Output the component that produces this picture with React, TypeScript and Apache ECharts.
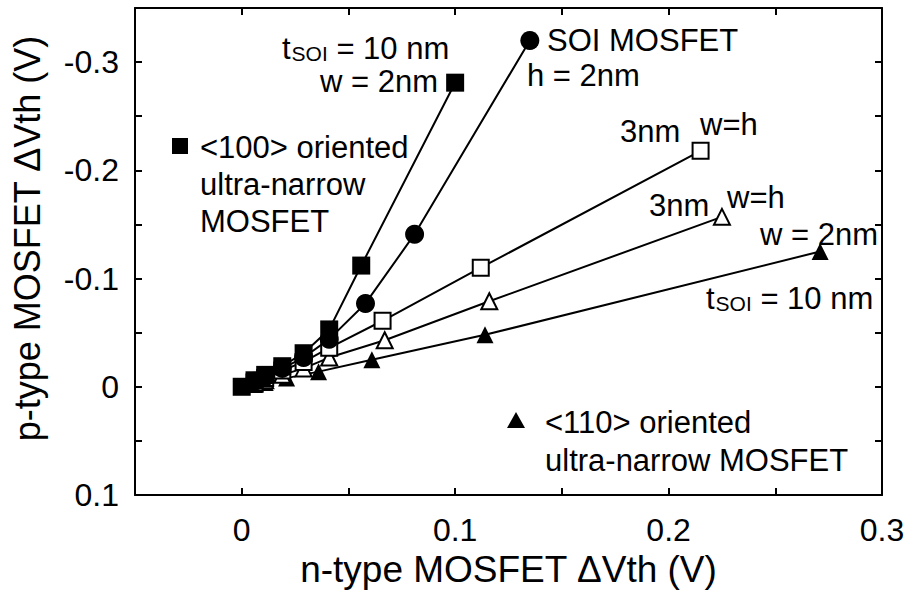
import React, { useEffect, useRef } from "react";
import * as echarts from "echarts";

const FONT = "'Liberation Sans', Arial, Helvetica, sans-serif";

// x: n-type MOSFET ΔVth (V), y: p-type MOSFET ΔVth (V)
const filledSq100: number[][] = [
  [0, 0], [0.006, -0.006], [0.011, -0.011], [0.019, -0.019], [0.029, -0.031],
  [0.041, -0.053], [0.056, -0.112], [0.1, -0.281],
];
const soiCircle: number[][] = [
  [0.006, -0.005], [0.011, -0.009], [0.019, -0.017], [0.029, -0.027],
  [0.041, -0.044], [0.058, -0.077], [0.081, -0.141], [0.135, -0.32],
];
const openSq: number[][] = [
  [0.006, -0.004], [0.011, -0.008], [0.019, -0.015], [0.029, -0.023],
  [0.041, -0.036], [0.066, -0.061], [0.112, -0.11], [0.215, -0.218],
];
const openTri: number[][] = [
  [0.006, -0.003], [0.011, -0.006], [0.019, -0.011], [0.029, -0.017],
  [0.041, -0.027], [0.067, -0.043], [0.116, -0.079], [0.225, -0.157],
];
const filledTri110: number[][] = [
  [0.006, -0.002], [0.011, -0.004], [0.021, -0.008], [0.036, -0.014],
  [0.061, -0.025], [0.114, -0.048], [0.271, -0.125],
];

const xMin = -0.05, xMax = 0.3, yMin = -0.35, yMax = 0.1, step = 0.05;

function fmt(v: number): string {
  const k = Math.round(v * 10);
  if (Math.abs(v * 10 - k) > 1e-6) return "";
  if (k === 0) return "0";
  return (k / 10).toFixed(1);
}
function fmtX(v: number): string {
  if (v < -1e-9) return "";
  return fmt(v);
}

export default function App() {
  const ref = useRef<HTMLDivElement>(null);
  useEffect(() => {
    if (!ref.current) return;
    const chart = echarts.init(ref.current, null, { renderer: "svg" });
    const lineStyle = { color: "#000", width: 2 };
    const tick = { show: true, inside: true, length: 7, lineStyle: { color: "#000", width: 2 } };
    const axisLine = { show: true, onZero: false, lineStyle: { color: "#000", width: 2 } };
    const label = { color: "#000", fontSize: 32, fontFamily: FONT };
    const ann = (text: string, x: number, y: number, size = 31) => ({
      type: "text",
      x, y,
      style: { text, font: `${size}px ${FONT}`, fill: "#000", textAlign: "left", textVerticalAlign: "middle" },
    });
    const tsoi = (x: number, y: number) => ({
      type: "text",
      x, y,
      style: {
        text: "{m|t}{s|SOI}{m| = 10 nm}",
        textAlign: "left",
        textVerticalAlign: "middle",
        rich: {
          m: { fontSize: 31, fontFamily: FONT, lineHeight: 31, verticalAlign: "bottom", fill: "#000" },
          s: { fontSize: 21, fontFamily: FONT, lineHeight: 21, padding: [17, 0, 0, 1], verticalAlign: "bottom", fill: "#000" },
        },
      },
    });
    chart.setOption({
      animation: false,
      backgroundColor: "#fff",
      grid: { left: 135, right: 27, top: 8, bottom: 106, containLabel: false },
      xAxis: [
        {
          type: "value", min: xMin, max: xMax, interval: step,
          axisLine, axisTick: tick, splitLine: { show: false },
          axisLabel: { ...label, margin: 19, formatter: fmtX },
          name: "n-type MOSFET \u0394Vth (V)", nameLocation: "middle", nameGap: 54,
          nameTextStyle: { color: "#000", fontSize: 37, fontFamily: FONT },
        },
        {
          type: "value", position: "top", min: xMin, max: xMax, interval: step,
          axisLine, axisTick: tick, splitLine: { show: false }, axisLabel: { show: false },
        },
      ],
      yAxis: [
        {
          type: "value", inverse: true, min: yMin, max: yMax, interval: step,
          axisLine, axisTick: tick, splitLine: { show: false },
          axisLabel: { ...label, margin: 16, formatter: fmt },
          name: "p-type MOSFET \u0394Vth (V)", nameLocation: "middle", nameGap: 90,
          nameTextStyle: { color: "#000", fontSize: 36, fontFamily: FONT, padding: [0, 0, 0, 26] },
        },
        {
          type: "value", position: "right", inverse: true, min: yMin, max: yMax, interval: step,
          axisLine, axisTick: tick, splitLine: { show: false }, axisLabel: { show: false },
        },
      ],
      series: [
        {
          type: "line", data: filledTri110, symbol: "triangle", symbolSize: 17,
          lineStyle, itemStyle: { color: "#000" },
        },
        {
          type: "line", data: openTri, symbol: "triangle", symbolSize: 16,
          lineStyle, itemStyle: { color: "#fff", borderColor: "#000", borderWidth: 2 },
        },
        {
          type: "line", data: openSq, symbol: "rect", symbolSize: 16,
          lineStyle, itemStyle: { color: "#fff", borderColor: "#000", borderWidth: 2 },
        },
        {
          type: "line", data: soiCircle, symbol: "circle", symbolSize: 19,
          lineStyle, itemStyle: { color: "#000" },
        },
        {
          type: "line", data: filledSq100, symbol: "rect", symbolSize: 18,
          lineStyle, itemStyle: { color: "#000" },
        },
      ],
      graphic: [
        tsoi(282, 48),
        ann("w = 2nm", 320, 81),
        ann("SOI MOSFET", 547, 40),
        ann("h = 2nm", 527, 75),
        ann("3nm", 620, 131),
        ann("w=h", 700, 124),
        ann("3nm", 649, 205),
        ann("w=h", 727, 197),
        ann("w = 2nm", 760, 234),
        tsoi(706, 298),
        { type: "rect", shape: { x: 172, y: 138, width: 16, height: 16 }, style: { fill: "#000" } },
        ann("<100> oriented", 200, 147),
        ann("ultra-narrow", 200, 184),
        ann("MOSFET", 200, 221),
        { type: "polygon", shape: { points: [[516, 412], [525, 428], [507, 428]] }, style: { fill: "#000" } },
        ann("<110> oriented", 545, 422),
        ann("ultra-narrow MOSFET", 545, 460),
      ],
    });
    return () => chart.dispose();
  }, []);
  return (
    <div
      ref={ref}
      style={{ position: "fixed", left: 0, top: 0, width: 909, height: 601, background: "#fff" }}
    />
  );
}
